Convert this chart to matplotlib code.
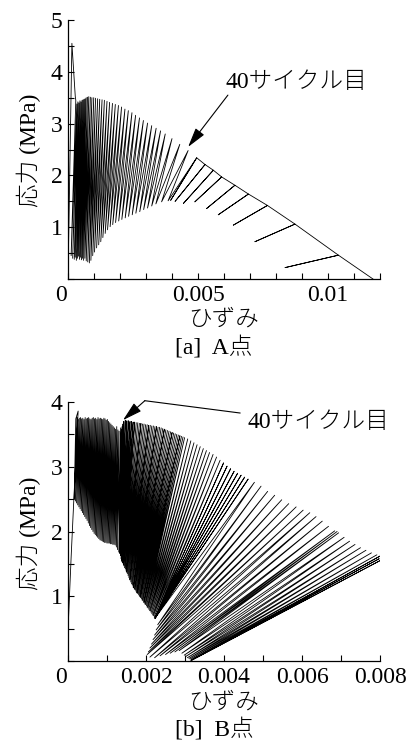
import matplotlib
matplotlib.use('Agg')
import matplotlib.pyplot as plt
from matplotlib.ticker import MultipleLocator, FixedLocator, FixedFormatter
from matplotlib.transforms import ScaledTranslation

plt.rcParams['font.family'] = ['Liberation Serif', 'Noto Sans CJK JP']
plt.rcParams['axes.unicode_minus'] = False

# ---------------- Panel [a] A点 ----------------
a_init_x = [0.0, 0.00015, 0.00028]
a_init_y = [0.0, 4.55, 3.52]

a_peak_x = [0.00030, 0.00034, 0.00038, 0.00042, 0.00046, 0.00050, 0.00054, 0.00058,
            0.00062, 0.00066, 0.00070, 0.00075, 0.00080, 0.00086, 0.00092, 0.00099,
            0.00106, 0.00114, 0.00122, 0.00131, 0.00140, 0.00150, 0.00160, 0.00171,
            0.00182, 0.00194, 0.00206, 0.00219, 0.00232, 0.00246, 0.00260, 0.00275,
            0.00290, 0.00306, 0.00322, 0.00339, 0.00356, 0.00374, 0.00400, 0.00430,
            0.00462]
a_peak_y = [3.45, 3.38, 3.42, 3.40, 3.44, 3.42, 3.45, 3.46,
            3.47, 3.48, 3.50, 3.51, 3.52, 3.51, 3.50, 3.50,
            3.49, 3.48, 3.47, 3.46, 3.45, 3.43, 3.41, 3.39,
            3.37, 3.35, 3.32, 3.28, 3.25, 3.21, 3.16, 3.11,
            3.06, 3.01, 2.96, 2.91, 2.86, 2.80, 2.71, 2.60,
            2.48]
a_valley_x = [0.00012, 0.00018, 0.00024, 0.00028, 0.00032, 0.00036, 0.00040, 0.00044,
              0.00048, 0.00052, 0.00056, 0.00060, 0.00065, 0.00070, 0.00076, 0.00082,
              0.00088, 0.00095, 0.00102, 0.00110, 0.00118, 0.00126, 0.00134, 0.00143,
              0.00152, 0.00162, 0.00172, 0.00183, 0.00195, 0.00207, 0.00220, 0.00233,
              0.00247, 0.00261, 0.00276, 0.00291, 0.00306, 0.00322, 0.00338, 0.00360,
              0.00385]
a_valley_y = [0.45, 0.40, 0.38, 0.42, 0.36, 0.40, 0.44, 0.38,
              0.42, 0.37, 0.40, 0.36, 0.40, 0.35, 0.33, 0.31,
              0.36, 0.45, 0.52, 0.60, 0.66, 0.72, 0.80, 0.88,
              0.95, 1.01, 1.05, 1.09, 1.12, 1.15, 1.18, 1.21,
              1.24, 1.27, 1.30, 1.34, 1.37, 1.41, 1.45, 1.49,
              1.51]

# later, widely spaced cycles (reload back onto the envelope)
a_sp_peak_x = [0.00495, 0.00527, 0.00559, 0.00591, 0.00642, 0.00694, 0.00767, 0.00873, 0.01040]
a_sp_peak_y = [2.34, 2.21, 2.10, 1.97, 1.81, 1.64, 1.42, 1.06, 0.46]
a_sp_valley_x = [0.00395, 0.00412, 0.00444, 0.00488, 0.00533, 0.00578, 0.00636, 0.00719, 0.00835]
a_sp_valley_y = [1.52, 1.50, 1.46, 1.49, 1.36, 1.24, 1.04, 0.72, 0.22]
a_end_x = [0.01173]
a_end_y = [0.0]

# ---------------- Panel [b] B点 ----------------
b_init_x = [0.0, 0.0, 0.00008, 0.00015, 0.00026]
b_init_y = [0.0, 0.47, 1.60, 2.50, 3.86]

b1_peak_x = [0.00020, 0.00023, 0.00026, 0.00029, 0.00032, 0.00035, 0.00038, 0.00041,
             0.00044, 0.00047, 0.00050, 0.00053, 0.00056, 0.00059, 0.00062, 0.00065,
             0.00068, 0.00071, 0.00074, 0.00077, 0.00080, 0.00083, 0.00086, 0.00089,
             0.00092, 0.00095, 0.00098, 0.00101, 0.00104, 0.00107, 0.00110, 0.00113,
             0.00116, 0.00119, 0.00122, 0.00125, 0.00128, 0.00131, 0.00135, 0.00137,
             0.00139, 0.00141]
b1_peak_y = [3.74, 3.76, 3.73, 3.75, 3.76, 3.74, 3.75, 3.73,
             3.76, 3.74, 3.75, 3.76, 3.74, 3.73, 3.75, 3.76,
             3.74, 3.75, 3.73, 3.76, 3.74, 3.75, 3.74, 3.73,
             3.75, 3.74, 3.72, 3.73, 3.70, 3.68, 3.66, 3.64,
             3.62, 3.60, 3.58, 3.62, 3.57, 3.55, 3.60, 3.58,
             3.62, 3.66]
b1_valley_x = [0.00016, 0.00019, 0.00022, 0.00025, 0.00028, 0.00031, 0.00034, 0.00037,
               0.00040, 0.00043, 0.00046, 0.00049, 0.00052, 0.00055, 0.00058, 0.00061,
               0.00064, 0.00067, 0.00070, 0.00073, 0.00076, 0.00079, 0.00082, 0.00085,
               0.00088, 0.00091, 0.00094, 0.00097, 0.00100, 0.00103, 0.00106, 0.00109,
               0.00112, 0.00115, 0.00118, 0.00121, 0.00124, 0.00127, 0.00131, 0.00133,
               0.00135, 0.00137]
b1_valley_y = [2.50, 2.47, 2.44, 2.41, 2.38, 2.35, 2.32, 2.29,
               2.26, 2.23, 2.20, 2.17, 2.13, 2.09, 2.06, 2.03,
               2.00, 1.97, 1.95, 1.93, 1.91, 1.89, 1.87, 1.86,
               1.85, 1.84, 1.83, 1.83, 1.82, 1.82, 1.82, 1.81,
               1.81, 1.80, 1.80, 1.79, 1.76, 1.72, 1.68, 1.66,
               1.63, 1.61]

b2_peak_x = [0.00143, 0.00147, 0.00151, 0.00155, 0.00159, 0.00163, 0.00167, 0.00171,
             0.00175, 0.00179, 0.00183, 0.00187, 0.00191, 0.00195, 0.00199, 0.00203,
             0.00207, 0.00211, 0.00215, 0.00219, 0.00223, 0.00227, 0.00231, 0.00235,
             0.00239, 0.00243, 0.00247, 0.00251, 0.00255, 0.00259, 0.00263, 0.00267,
             0.00271, 0.00275, 0.00279, 0.00283, 0.00287, 0.00291, 0.00295, 0.00299,
             0.00307, 0.00315, 0.00323, 0.00331, 0.00339, 0.00347, 0.00355, 0.00363,
             0.00372, 0.00381, 0.00390, 0.00399, 0.00408, 0.00417, 0.00426, 0.00435,
             0.00444, 0.00453, 0.00462]
b2_peak_y = [3.70, 3.72, 3.71, 3.71, 3.70, 3.70, 3.69, 3.69,
             3.68, 3.68, 3.67, 3.67, 3.66, 3.66, 3.65, 3.65,
             3.64, 3.64, 3.63, 3.63, 3.62, 3.62, 3.61, 3.61,
             3.60, 3.59, 3.58, 3.57, 3.56, 3.55, 3.54, 3.53,
             3.52, 3.51, 3.50, 3.49, 3.48, 3.47, 3.46, 3.45,
             3.43, 3.40, 3.37, 3.34, 3.31, 3.28, 3.25, 3.22,
             3.19, 3.15, 3.10, 3.06, 3.01, 2.97, 2.93, 2.90,
             2.87, 2.84, 2.81]
b2_valley_x = [0.00136, 0.00137, 0.00138, 0.00139, 0.00140, 0.00141, 0.00142, 0.00143,
               0.00145, 0.00147, 0.00149, 0.00150, 0.00152, 0.00154, 0.00156, 0.00158,
               0.00159, 0.00161, 0.00163, 0.00165, 0.00167, 0.00168, 0.00170, 0.00172,
               0.00174, 0.00176, 0.00177, 0.00179, 0.00181, 0.00183, 0.00185, 0.00186,
               0.00188, 0.00190, 0.00192, 0.00194, 0.00195, 0.00197, 0.00199, 0.00201,
               0.00203, 0.00205, 0.00207, 0.00209, 0.00211, 0.00213, 0.00215, 0.00217,
               0.00219, 0.00221, 0.00223, 0.00224, 0.00225, 0.00224, 0.00223, 0.00224,
               0.00223, 0.00224, 0.00223]
b2_valley_y = [1.58, 1.56, 1.54, 1.53, 1.52, 1.51, 1.49, 1.47,
               1.44, 1.42, 1.39, 1.37, 1.35, 1.32, 1.29, 1.26,
               1.25, 1.22, 1.19, 1.17, 1.14, 1.13, 1.11, 1.10,
               1.08, 1.06, 1.05, 1.04, 1.02, 1.00, 0.99, 0.98,
               0.96, 0.94, 0.93, 0.91, 0.90, 0.88, 0.87, 0.85,
               0.83, 0.82, 0.80, 0.78, 0.77, 0.75, 0.73, 0.71,
               0.70, 0.68, 0.66, 0.67, 0.68, 0.66, 0.67, 0.68,
               0.66, 0.67, 0.66]

b3_peak_x = [0.00478, 0.00495, 0.00512, 0.00530, 0.00548, 0.00566, 0.00585, 0.00603,
             0.00620, 0.00636, 0.00652, 0.00668, 0.00684, 0.00690, 0.00694, 0.00708,
             0.00722, 0.00736, 0.00750, 0.00764, 0.00778, 0.00792, 0.00800, 0.00798,
             0.00800]
b3_peak_y = [2.76, 2.70, 2.62, 2.56, 2.49, 2.43, 2.38, 2.33,
             2.29, 2.23, 2.16, 2.08, 2.01, 2.00, 1.98, 1.91,
             1.85, 1.80, 1.75, 1.71, 1.67, 1.64, 1.62, 1.58,
             1.55]
b3_valley_x = [0.00230, 0.00226, 0.00222, 0.00218, 0.00214, 0.00210, 0.00206, 0.00203,
               0.00210, 0.00222, 0.00236, 0.00250, 0.00262, 0.00274, 0.00285, 0.00292,
               0.00298, 0.00302, 0.00306, 0.00310, 0.00313, 0.00316, 0.00318, 0.00316,
               0.00314]
b3_valley_y = [0.56, 0.48, 0.40, 0.33, 0.26, 0.20, 0.14, 0.10,
               0.06, 0.05, 0.08, 0.10, 0.12, 0.14, 0.16, 0.12,
               0.09, 0.07, 0.05, 0.04, 0.03, 0.02, 0.02, 0.01,
               0.00]


def zigzag(px, py, vx, vy):
    xs, ys = [], []
    for a, b, c, d in zip(px, py, vx, vy):
        xs += [a, c]
        ys += [b, d]
    return xs, ys


def branches(px, py, vx, vy):
    xs, ys = [], []
    for a, b, c, d in zip(px, py, vx, vy):
        xs += [a, c, a]
        ys += [b, d, b]
    return xs, ys


FS = 17
W, H = 419, 747
fig = plt.figure(figsize=(W / 100, H / 100), dpi=100)
axa = fig.add_axes([68 / W, 1 - 279 / H, 312 / W, 259 / H])
axb = fig.add_axes([68 / W, 1 - 661 / H, 312 / W, 259 / H])

# path a
xa, ya = list(a_init_x), list(a_init_y)
zx, zy = zigzag(a_peak_x, a_peak_y, a_valley_x, a_valley_y)
xa += zx; ya += zy
bx, by = branches(a_sp_peak_x, a_sp_peak_y, a_sp_valley_x, a_sp_valley_y)
xa += bx; ya += by
xa += a_end_x; ya += a_end_y
axa.plot(xa, ya, color='black', lw=0.6)

# path b
xb, yb = list(b_init_x), list(b_init_y)
for px, py, vx, vy in [(b1_peak_x, b1_peak_y, b1_valley_x, b1_valley_y),
                       (b2_peak_x, b2_peak_y, b2_valley_x, b2_valley_y),
                       (b3_peak_x, b3_peak_y, b3_valley_x, b3_valley_y)]:
    zx, zy = zigzag(px, py, vx, vy)
    xb += zx; yb += zy
axb.plot(xb, yb, color='black', lw=0.6)

for ax in (axa, axb):
    for s in ('top', 'right'):
        ax.spines[s].set_visible(False)
    for s in ('left', 'bottom'):
        ax.spines[s].set_linewidth(0.9)
    ax.tick_params(which='both', direction='in', length=4, width=0.8,
                   labelsize=FS, pad=4)
    ax.yaxis.set_minor_locator(MultipleLocator(0.5))
    ax.xaxis.set_minor_locator(MultipleLocator(0.001))

axa.set_xlim(0, 0.012)
axa.set_ylim(0, 5)
axa.xaxis.set_major_locator(FixedLocator([0, 0.005, 0.01]))
axa.xaxis.set_major_formatter(FixedFormatter(['0', '0.005', '0.01']))
axa.yaxis.set_major_locator(FixedLocator([1, 2, 3, 4, 5]))
axa.yaxis.set_major_formatter(FixedFormatter(['1', '2', '3', '4', '5']))

axb.set_xlim(0, 0.008)
axb.set_ylim(0, 4)
axb.xaxis.set_major_locator(FixedLocator([0, 0.002, 0.004, 0.006, 0.008]))
axb.xaxis.set_major_formatter(FixedFormatter(['0', '0.002', '0.004', '0.006', '0.008']))
axb.yaxis.set_major_locator(FixedLocator([1, 2, 3, 4]))
axb.yaxis.set_major_formatter(FixedFormatter(['1', '2', '3', '4']))

fig.canvas.draw()
for ax in (axa, axb):
    lab = ax.get_xticklabels()[0]
    lab.set_transform(lab.get_transform() + ScaledTranslation(-7 / 100, 0, fig.dpi_scale_trans))

# annotations
axa.annotate('', xy=(0.00462, 2.55), xytext=(0.00615, 3.55),
             arrowprops=dict(arrowstyle='-|>,head_length=0.8,head_width=0.22',
                             color='black', lw=0.8, shrinkA=0, shrinkB=0,
                             mutation_scale=15))
axa.text(0.00604, 3.80, '40サイクル目', fontsize=FS, ha='left', va='center',
         fontweight='light')

axb.plot([0.00441, 0.00197], [3.83, 4.02], color='black', lw=0.8, clip_on=False)
axb.annotate('', xy=(0.00141, 3.72), xytext=(0.00197, 4.02), annotation_clip=False,
             arrowprops=dict(arrowstyle='-|>,head_length=0.8,head_width=0.22',
                             color='black', lw=0.8, shrinkA=0, shrinkB=0,
                             mutation_scale=15))
axb.text(0.00459, 3.68, '40サイクル目', fontsize=FS, ha='left', va='center',
         fontweight='light')

# labels
kw = dict(fontsize=FS, ha='center', va='center', fontweight='light')
fig.text(224 / W, 1 - 320 / H, 'ひずみ', **kw)
fig.text(214 / W, 1 - 347 / H, '[a]  A点', **kw)
fig.text(29 / W, 1 - 150 / H, '応力 (MPa)', rotation=90, **kw)

fig.text(224 / W, 1 - 703 / H, 'ひずみ', **kw)
fig.text(214 / W, 1 - 729 / H, '[b]  B点', **kw)
fig.text(29 / W, 1 - 533 / H, '応力 (MPa)', rotation=90, **kw)

fig.savefig('out.png', dpi=100)
